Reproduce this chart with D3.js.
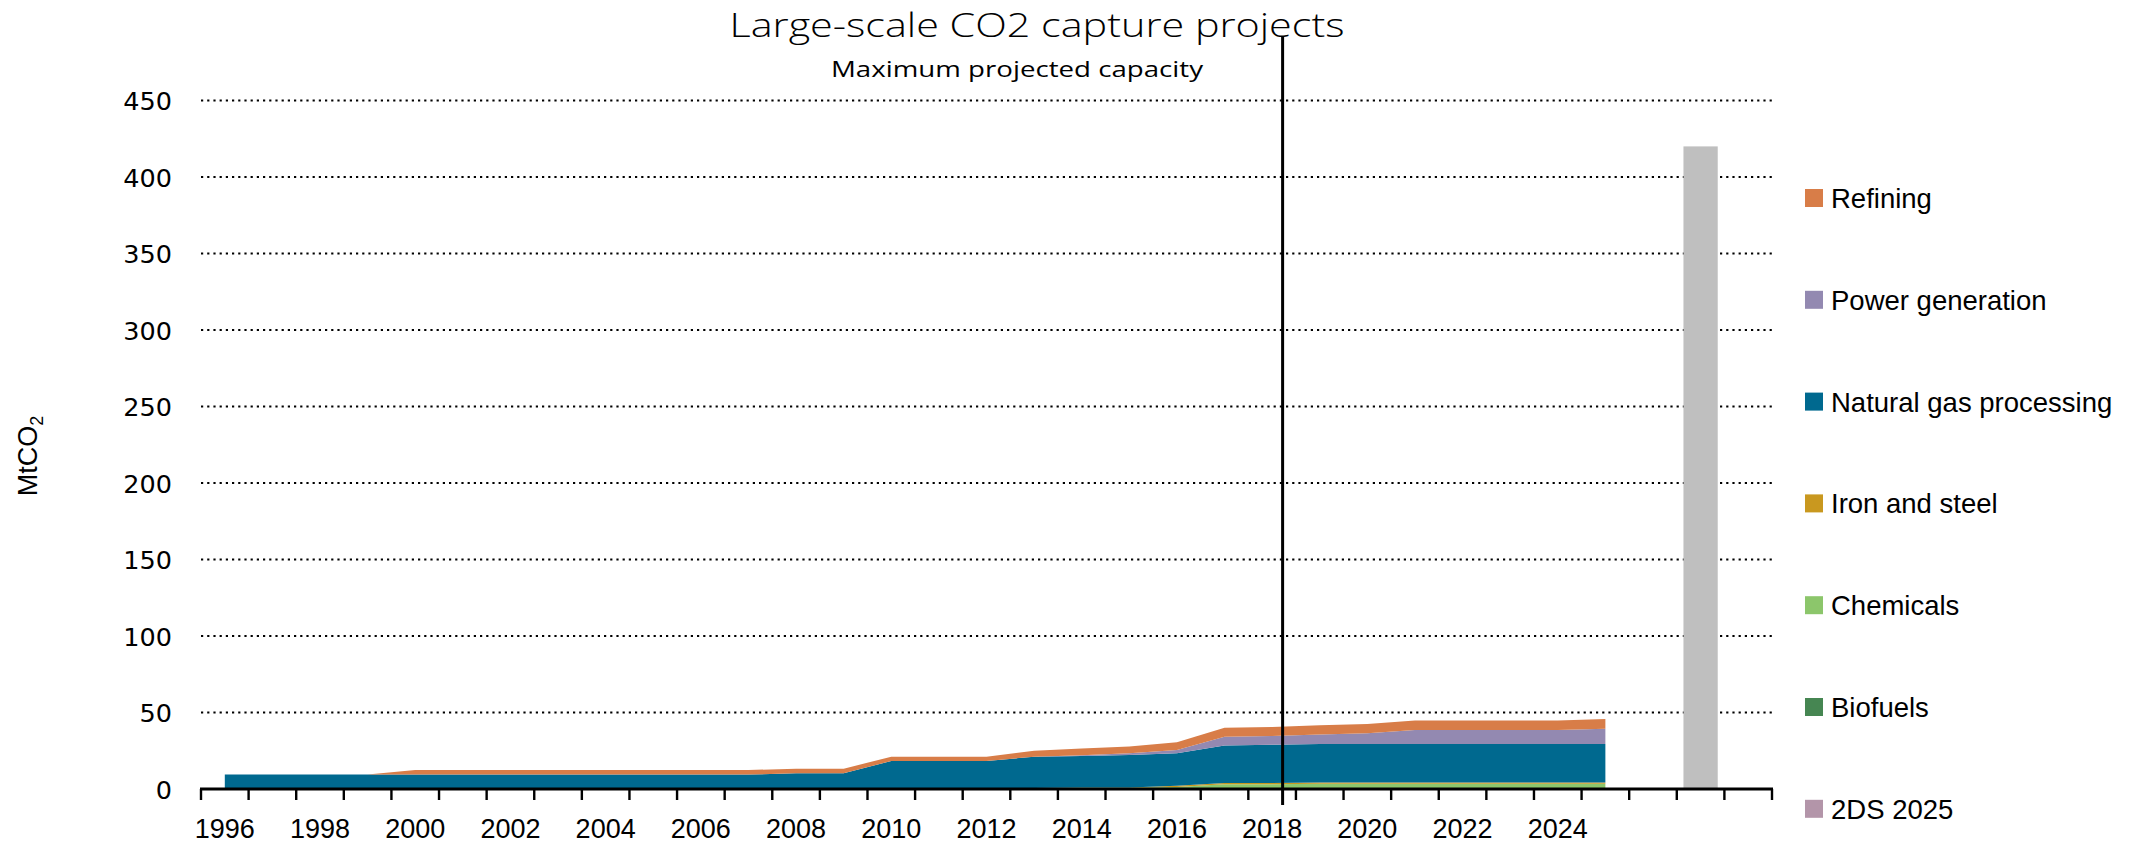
<!DOCTYPE html>
<html>
<head>
<meta charset="utf-8">
<script src="https://cdn.jsdelivr.net/npm/d3@7"></script>
<style>
  html, body { margin: 0; padding: 0; background: #ffffff; }
  svg { display: block; }
</style>
</head>
<body>
<svg id="chart" width="2130" height="845"></svg>
<script>
// Capacity of large-scale CO2 capture projects by sector (MtCO2), 1996-2025
const years = [1996, 1997, 1998, 1999, 2000, 2001, 2002, 2003, 2004, 2005,
               2006, 2007, 2008, 2009, 2010, 2011, 2012, 2013, 2014, 2015,
               2016, 2017, 2018, 2019, 2020, 2021, 2022, 2023, 2024, 2025];

const biofuels   = [0, 0, 0, 0, 0, 0, 0, 0, 0, 0,
                    0, 0, 0, 0, 0, 0, 0, 0, 0, 0,
                    0, 0.4, 0.4, 0.4, 0.4, 0.4, 0.4, 0.4, 0.4, 0.4];
const chemicals  = [0, 0, 0, 0, 0, 0, 0, 0, 0, 0,
                    0, 0, 0, 0, 0, 0, 0, 0.7, 1.0, 1.0,
                    1.3, 2.7, 2.7, 3.1, 3.1, 3.1, 3.1, 3.1, 3.1, 3.1];
const ironSteel  = [0, 0, 0, 0, 0, 0, 0, 0, 0, 0,
                    0, 0, 0, 0, 0, 0, 0, 0, 0, 0,
                    0.8, 0.8, 0.8, 0.8, 0.8, 0.8, 0.8, 0.8, 0.8, 0.8];
const naturalGas = [9.4, 9.4, 9.4, 9.4, 9.4, 9.4, 9.4, 9.4, 9.4, 9.4,
                    9.4, 9.4, 10.3, 10.3, 18.3, 18.3, 18.3, 20.4, 20.5, 21.2,
                    21.2, 24.6, 25.1, 25.1, 25.1, 25.1, 25.1, 25.1, 25.1, 25.1];
const power      = [0, 0, 0, 0, 0, 0, 0, 0, 0, 0,
                    0, 0, 0, 0, 0, 0, 0, 0, 0.5, 1.1,
                    2.2, 5.7, 5.7, 6.3, 7.0, 9.2, 9.2, 9.2, 9.2, 10.0];
const refining   = [0, 0, 0, 0, 3.0, 3.0, 3.0, 3.0, 3.0, 3.0,
                    3.0, 3.0, 3.0, 3.0, 2.8, 2.8, 2.8, 3.9, 4.4, 4.4,
                    5.0, 5.9, 5.8, 5.9, 6.1, 6.1, 6.1, 6.1, 6.1, 6.4];

// Extra slots after the time series; the middle one holds the 2DS bar
const extraSlots = ["gap-a", "2DS 2025", "gap-b"];
const scenarioSlot = "2DS 2025";
const scenarioValue = 420;

// Position of the vertical reference line, in years
const markerYear = 2018.22;

const yTickValues = [0, 50, 100, 150, 200, 250, 300, 350, 400, 450];
const xTickLabels = [1996, 1998, 2000, 2002, 2004, 2006, 2008, 2010, 2012,
                     2014, 2016, 2018, 2020, 2022, 2024];

const seriesKeys   = ["biofuels", "chemicals", "ironSteel", "naturalGas", "power", "refining"];
const seriesColors = {
  biofuels:   "#468652",
  chemicals:  "#8CC66B",
  ironSteel:  "#C9981F",
  naturalGas: "#00698F",
  power:      "#9389B1",
  refining:   "#D87D48"
};

const legendItems = [
  { label: "Refining",               color: "#D87D48" },
  { label: "Power generation",       color: "#9389B1" },
  { label: "Natural gas processing", color: "#00698F" },
  { label: "Iron and steel",         color: "#C9981F" },
  { label: "Chemicals",              color: "#8CC66B" },
  { label: "Biofuels",               color: "#468652" },
  { label: "2DS 2025",               color: "#B395A9" }
];

// ---------- layout ----------
const plotLeft = 201, plotRight = 1772, plotTop = 100.5, plotBottom = 789;
const svg = d3.select("#chart");

const table = years.map((yr, i) => ({
  year: yr,
  biofuels: biofuels[i],
  chemicals: chemicals[i],
  ironSteel: ironSteel[i],
  naturalGas: naturalGas[i],
  power: power[i],
  refining: refining[i]
}));

const slots = years.map(String).concat(extraSlots);
const x = d3.scaleBand().domain(slots).range([plotLeft, plotRight]).paddingInner(0).paddingOuter(0);
const bw = x.bandwidth();
const xc = yr => x(String(yr)) + bw / 2;
const xYear = d3.scaleLinear()
  .domain([years[0], years[years.length - 1]])
  .range([xc(years[0]), xc(years[years.length - 1])]);

const y = d3.scaleLinear().domain([0, 450]).range([plotBottom, plotTop]);

// ---------- gridlines ----------
svg.append("g")
  .selectAll("line")
  .data(yTickValues.filter(v => v > 0))
  .join("line")
  .attr("x1", plotLeft).attr("x2", plotRight)
  .attr("y1", d => y(d)).attr("y2", d => y(d))
  .attr("stroke", "#000")
  .attr("stroke-width", 2.2)
  .attr("stroke-dasharray", "2.2,4");

// ---------- stacked areas ----------
const stacked = d3.stack().keys(seriesKeys)(table);
const area = d3.area()
  .x(d => xc(d.data.year))
  .y0(d => y(d[0]))
  .y1(d => y(d[1]));

svg.append("g")
  .selectAll("path")
  .data(stacked)
  .join("path")
  .attr("d", area)
  .attr("fill", d => seriesColors[d.key]);

// ---------- 2DS bar ----------
svg.append("rect")
  .attr("x", x(scenarioSlot) + bw * 0.14)
  .attr("width", bw * 0.72)
  .attr("y", y(scenarioValue))
  .attr("height", y(0) - y(scenarioValue))
  .attr("fill", "#BFBFBF");

// ---------- x axis ----------
const xAxis = svg.append("g");
xAxis.append("line")
  .attr("x1", plotLeft - 1).attr("x2", plotRight + 1)
  .attr("y1", y(0)).attr("y2", y(0))
  .attr("stroke", "#000").attr("stroke-width", 2.8);

const boundaries = slots.map(s => x(s)).concat([plotRight]);
xAxis.selectAll("line.tick")
  .data(boundaries)
  .join("line")
  .attr("class", "tick")
  .attr("x1", d => d).attr("x2", d => d)
  .attr("y1", y(0)).attr("y2", y(0) + 11)
  .attr("stroke", "#000").attr("stroke-width", 2.4);

xAxis.selectAll("text")
  .data(xTickLabels)
  .join("text")
  .attr("x", d => xc(d))
  .attr("y", 838)
  .attr("text-anchor", "middle")
  .attr("font-family", "Liberation Sans, Arial, sans-serif")
  .attr("font-size", 27)
  .attr("fill", "#000")
  .text(d => d);

// ---------- y axis labels ----------
svg.append("g")
  .selectAll("text")
  .data(yTickValues)
  .join("text")
  .attr("x", 172)
  .attr("y", d => y(d) + 9.5)
  .attr("text-anchor", "end")
  .attr("font-family", "DejaVu Sans, sans-serif")
  .attr("font-size", 25.5)
  .attr("fill", "#000")
  .text(d => d);

const yTitle = svg.append("text")
  .attr("transform", "translate(37,456) rotate(-90)")
  .attr("text-anchor", "middle")
  .attr("font-family", "Liberation Sans, Arial, sans-serif")
  .attr("font-size", 27)
  .attr("fill", "#000");
yTitle.append("tspan").text("MtCO");
yTitle.append("tspan").attr("font-size", 18).attr("dy", 6).text("2");

// ---------- vertical reference line ----------
svg.append("line")
  .attr("x1", xYear(markerYear)).attr("x2", xYear(markerYear))
  .attr("y1", 36).attr("y2", 805)
  .attr("stroke", "#000").attr("stroke-width", 3);

// ---------- titles ----------
svg.append("text")
  .attr("x", 1037).attr("y", 37)
  .attr("text-anchor", "middle")
  .attr("font-family", "Open Sans, sans-serif")
  .attr("font-weight", 300)
  .attr("font-size", 33)
  .attr("textLength", 615)
  .attr("lengthAdjust", "spacingAndGlyphs")
  .attr("fill", "#000")
  .text("Large-scale CO2 capture projects");

svg.append("text")
  .attr("x", 1017).attr("y", 77)
  .attr("text-anchor", "middle")
  .attr("font-family", "Open Sans, sans-serif")
  .attr("font-size", 21)
  .attr("textLength", 372)
  .attr("lengthAdjust", "spacingAndGlyphs")
  .attr("fill", "#000")
  .text("Maximum projected  capacity");

// ---------- legend ----------
const legend = svg.append("g")
  .selectAll("g")
  .data(legendItems)
  .join("g")
  .attr("transform", (d, i) => `translate(1805,${198 + i * 101.8})`);

legend.append("rect")
  .attr("x", 0).attr("y", -9)
  .attr("width", 18).attr("height", 18)
  .attr("fill", d => d.color);

legend.append("text")
  .attr("x", 26).attr("y", 10)
  .attr("font-family", "Liberation Sans, Arial, sans-serif")
  .attr("font-size", 27.5)
  .attr("fill", "#000")
  .text(d => d.label);
</script>
</body>
</html>
